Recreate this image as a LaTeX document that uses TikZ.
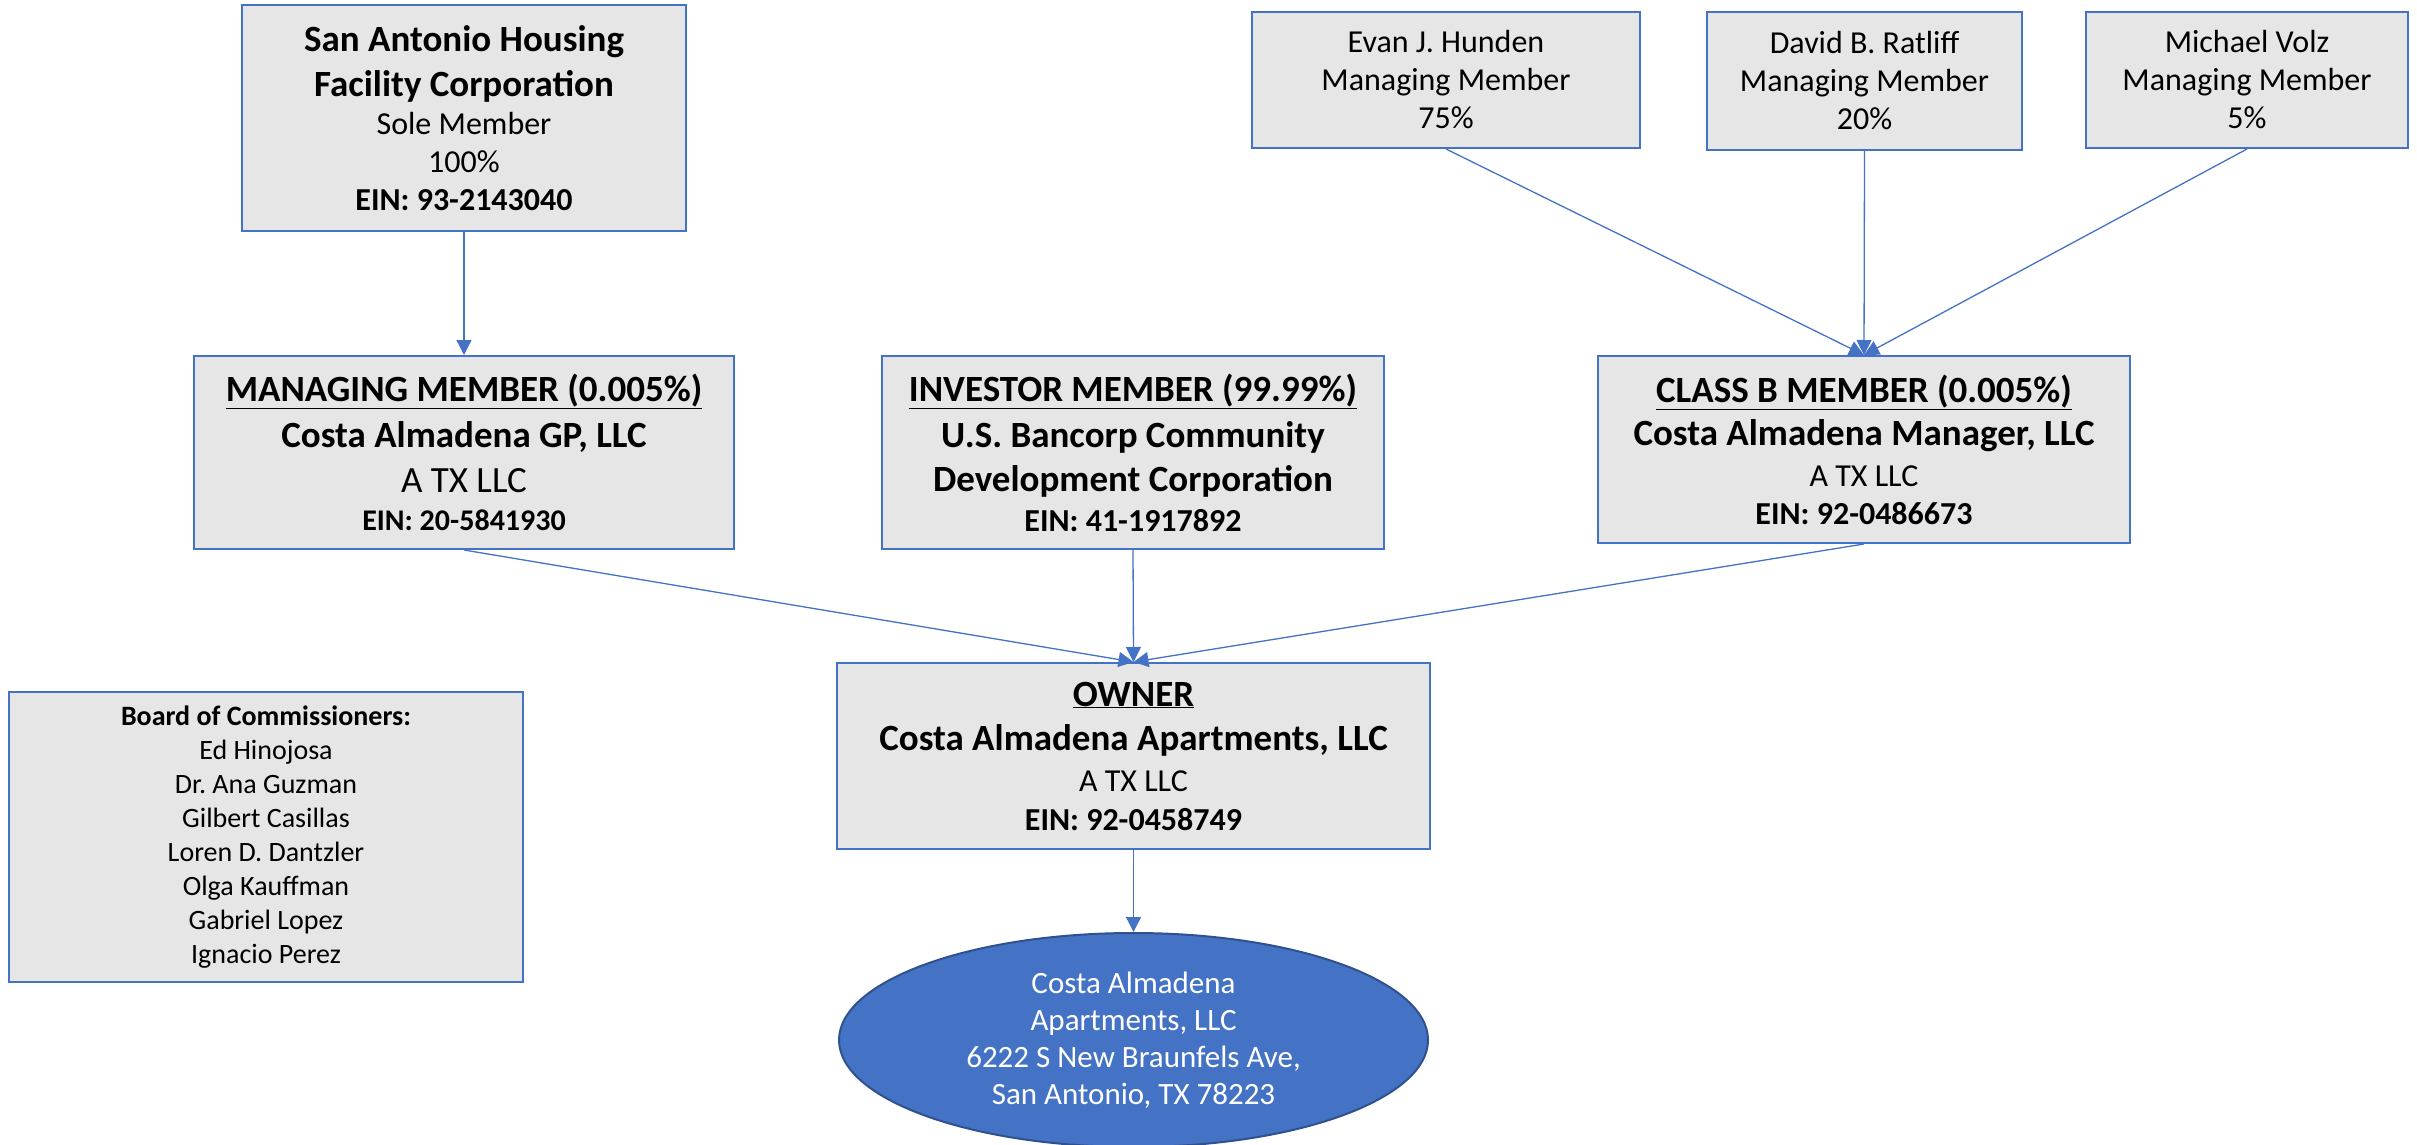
\documentclass[tikz,border=0pt]{standalone}
\usepackage{fontspec}
\setmainfont{Carlito}
\usetikzlibrary{arrows.meta,shapes.geometric}
\definecolor{boxblue}{HTML}{4472C4}
\definecolor{boxfill}{HTML}{E7E6E6}
\definecolor{ellborder}{HTML}{2F528F}
\newcommand\mysz[2]{\fontsize{#1}{#2}\selectfont}
\newcommand\bigb[1]{{\mysz{37}{44}\bfseries #1}}
\newcommand\bigt[1]{{\mysz{37}{44}\bfseries\underline{#1}}}
\frenchspacing
\begin{document}
\begin{tikzpicture}[x=1pt,y=-1pt,
  entity/.style={draw=boxblue, line width=2pt, fill=boxfill, inner sep=0pt, align=center, text=black},
  link/.style={draw=boxblue, line width=1.3pt, -{Triangle[length=15pt,width=15pt]}},
  prop/.style={ellipse, draw=ellborder, line width=2pt, fill=boxblue, inner sep=0pt, align=center, text=white,
    minimum width=589pt, minimum height=214pt, font=\mysz{31}{37}}
]
\useasboundingbox[fill=white] (0,0) rectangle (2417,1145);

\node[entity, minimum width=444pt, minimum height=226pt, font=\mysz{32}{38}] (sahfc) at (464,118)
  {\bigb{San Antonio Housing}\\[7pt]
   \bigb{Facility Corporation}\\
   Sole Member\\
   100\%\\
   {\bfseries EIN: 93-2143040}};

\node[entity, minimum width=540pt, minimum height=193pt, font=\mysz{32}{38}] (mm) at (464,452.5)
  {\bigt{MANAGING MEMBER (0.005\%)}\\[8pt]
   \bigb{Costa Almadena GP, LLC}\\[7pt]
   {\mysz{37}{44}A TX LLC}\\
   {\mysz{30}{36}\bfseries EIN: 20-5841930}};

\node[entity, minimum width=502pt, minimum height=193pt, font=\mysz{32}{38}] (inv) at (1133,452.5)
  {\bigt{INVESTOR MEMBER (99.99\%)}\\[8pt]
   \bigb{U.S. Bancorp Community}\\[6pt]
   \bigb{Development Corporation}\\[2pt]
   {\bfseries EIN: 41-1917892}};

\node[entity, minimum width=532pt, minimum height=187pt, font=\mysz{32}{38}] (classb) at (1864,449.5)
  {\bigt{CLASS B MEMBER (0.005\%)}\\[5pt]
   \bigb{Costa Almadena Manager, LLC}\\[3pt]
   A TX LLC\\
   {\bfseries EIN: 92-0486673}};

\node[entity, minimum width=388pt, minimum height=136pt, font=\mysz{32}{38}] (evan) at (1446,80)
  {Evan J. Hunden\\ Managing Member\\ 75\%};
\node[entity, minimum width=315pt, minimum height=138pt, font=\mysz{32}{38}] (david) at (1864.5,81)
  {David B. Ratliff\\ Managing Member\\ 20\%};
\node[entity, minimum width=322pt, minimum height=136pt, font=\mysz{32}{38}] (michael) at (2247,80)
  {Michael Volz\\ Managing Member\\ 5\%};

\node[entity, minimum width=593pt, minimum height=186pt, font=\mysz{32}{38}] (owner) at (1133.5,756)
  {\bigt{OWNER}\\[6pt]
   \bigb{Costa Almadena Apartments, LLC}\\[3pt]
   A TX LLC\\[1pt]
   {\bfseries EIN: 92-0458749}};

\node[entity, minimum width=514pt, minimum height=290pt, font=\mysz{28}{34}] (board) at (266,837)
  {{\bfseries Board of Commissioners:}\\
   Ed Hinojosa\\ Dr. Ana Guzman\\ Gilbert Casillas\\ Loren D. Dantzler\\
   Olga Kauffman\\ Gabriel Lopez\\ Ignacio Perez};

\node[prop] (prop) at (1133.5,1040)
  {Costa Almadena\\ Apartments, LLC\\ 6222 S New Braunfels Ave,\\ San Antonio, TX 78223};

\draw[link] (sahfc.south) -- (mm.north);
\draw[link] (evan.south) -- (classb.north);
\draw[link] (david.south) -- (classb.north);
\draw[link] (michael.south) -- (classb.north);
\draw[link] (mm.south) -- (owner.north);
\draw[link] (inv.south) -- (owner.north);
\draw[link] (classb.south) -- (owner.north);
\draw[link] (owner.south) -- (prop.north);
\end{tikzpicture}
\end{document}
